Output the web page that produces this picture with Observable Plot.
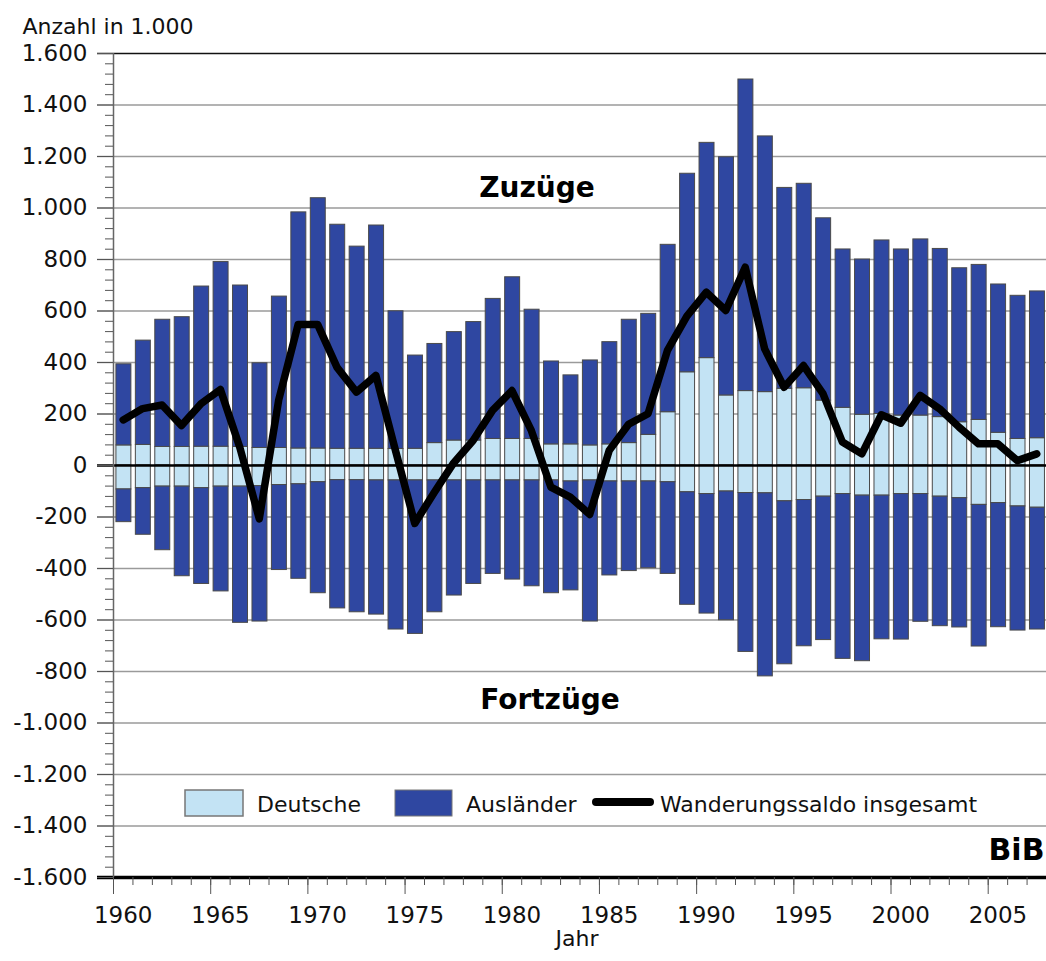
<!DOCTYPE html>
<html><head><meta charset="utf-8">
<script src="https://cdn.jsdelivr.net/npm/d3@7"></script>
<script src="https://cdn.jsdelivr.net/npm/@observablehq/plot@0.6"></script>
<style>html,body{margin:0;padding:0;background:#fff;}</style>
</head><body><div id="chart"></div>
<script>
// Jahre (Kategorien)
const years = [1960,1961,1962,1963,1964,1965,1966,1967,1968,1969,1970,1971,1972,1973,1974,1975,1976,1977,1978,1979,1980,1981,1982,1983,1984,1985,1986,1987,1988,1989,1990,1991,1992,1993,1994,1995,1996,1997,1998,1999,2000,2001,2002,2003,2004,2005,2006,2007];
// Zuzüge (in 1.000)
const deutscheZuzuege = [78,80,72,72,73,73,72,68,68,66,66,65,65,65,64,65,87,97,97,103,103,103,82,82,78,82,87,119,207,362,417,272,289,285,298,300,252,224,197,200,194,194,188,168,177,127,103,106];
const auslaenderZuzuege = [315,405,494,504,622,717,627,329,588,917,972,870,785,867,535,362,385,421,460,544,628,502,322,268,330,397,479,470,650,771,836,925,1210,993,780,794,708,615,603,674,645,684,653,598,602,576,556,570];
// Fortzüge (in 1.000, negativ)
const deutscheFortzuege = [-93,-88,-82,-82,-88,-82,-82,-80,-76,-73,-65,-57,-57,-58,-58,-58,-58,-58,-58,-58,-58,-58,-58,-62,-58,-62,-62,-62,-65,-104,-111,-101,-107,-108,-139,-134,-121,-111,-117,-117,-111,-111,-121,-127,-153,-146,-159,-164];
const auslaenderFortzuege = [-127,-181,-247,-348,-372,-407,-529,-526,-330,-367,-431,-498,-513,-521,-579,-596,-512,-447,-402,-363,-385,-411,-438,-423,-548,-365,-348,-337,-356,-437,-464,-500,-617,-711,-633,-568,-557,-640,-643,-558,-565,-496,-503,-502,-550,-482,-482,-473];
// Wanderungssaldo insgesamt
const saldo = [177,221,235,155,240,295,70,-207,255,548,548,381,285,350,60,-225,-105,10,97,214,291,135,-84,-123,-190,58,160,201,447,580,673,602,770,453,304,388,279,91,45,197,164,272,220,149,84,84,19,45];

// Achsen
const yMajorTicks = [-1600,-1400,-1200,-1000,-800,-600,-400,-200,0,200,400,600,800,1000,1200,1400,1600];
const yGridTicks = [-1400,-1200,-1000,-800,-600,-400,-200,200,400,600,800,1000,1200,1400];
const yMinorTicks = [-1560,-1520,-1480,-1440,-1360,-1320,-1280,-1240,-1160,-1120,-1080,-1040,-960,-920,-880,-840,-760,-720,-680,-640,-560,-520,-480,-440,-360,-320,-280,-240,-160,-120,-80,-40,40,80,120,160,240,280,320,360,440,480,520,560,640,680,720,760,840,880,920,960,1040,1080,1120,1160,1240,1280,1320,1360,1440,1480,1520,1560];
const xYearTicks = [1960,1961,1962,1963,1964,1965,1966,1967,1968,1969,1970,1971,1972,1973,1974,1975,1976,1977,1978,1979,1980,1981,1982,1983,1984,1985,1986,1987,1988,1989,1990,1991,1992,1993,1994,1995,1996,1997,1998,1999,2000,2001,2002,2003,2004,2005,2006,2007,2008];
const xLabelYears = [1960,1965,1970,1975,1980,1985,1990,1995,2000,2005];

const groups = ["Deutsche","Ausländer"];
const colors = ["#c3e3f4","#2f47a1"];
const legendLine = "Wanderungssaldo insgesamt";

// gestapelte Tabelle
const rows = [];
years.forEach((year,i)=>{
  rows.push({year, group:"Deutsche", y1:0, y2:deutscheZuzuege[i]});
  rows.push({year, group:"Ausländer", y1:deutscheZuzuege[i], y2:deutscheZuzuege[i]+auslaenderZuzuege[i]});
  rows.push({year, group:"Deutsche", y1:0, y2:deutscheFortzuege[i]});
  rows.push({year, group:"Ausländer", y1:deutscheFortzuege[i], y2:deutscheFortzuege[i]+auslaenderFortzuege[i]});
});
const saldoRows = years.map((year,i)=>({year, value:saldo[i]}));

const de = d3.formatLocale({decimal:",", thousands:".", grouping:[3], currency:["","€"], minus:"-"});
const fmt = de.format(",d");
const FONT = "'DejaVu Sans', Verdana, sans-serif";

const chart = Plot.plot({
  width:1046, height:961,
  marginTop:53, marginBottom:84, marginLeft:113, marginRight:0,
  style:{fontFamily:FONT, fontSize:"23px", color:"#111", background:"#fff"},
  x:{domain:[1960,2008]},
  y:{domain:[-1600,1600]},
  color:{domain:groups, range:colors},
  marks:[
    Plot.ruleY(yGridTicks, {stroke:"#9a9a9a", strokeWidth:1.5, insetLeft:-16}),
    Plot.rect(rows, {x1:d=>d.year+0.15, x2:d=>d.year+0.92, y1:"y1", y2:"y2", fill:"group", stroke:"#4a4a4a", strokeWidth:1}),
    Plot.ruleY([0], {stroke:"#000", strokeWidth:2.5, insetLeft:-16}),
    Plot.ruleY([1600], {stroke:"#111", strokeWidth:1.5, insetLeft:-16}),
    Plot.ruleY([-1600], {stroke:"#000", strokeWidth:3.5, insetLeft:-16}),
    Plot.ruleX([1960], {stroke:"#666", strokeWidth:1.5}),
    Plot.axisY({ticks:yMinorTicks, tickSize:8, tickFormat:()=>"", label:null, stroke:"#555"}),
    Plot.axisY({ticks:yMajorTicks, tickSize:16, tickPadding:10, tickFormat:fmt, label:null, stroke:"#555", fontSize:23}),
    Plot.axisX({ticks:xYearTicks, tickSize:8, tickFormat:()=>"", label:null, stroke:"#555"}),
    Plot.axisX({ticks:xLabelYears, tickSize:17, tickFormat:()=>"", label:null, stroke:"#555"}),
    Plot.text(xLabelYears, {x:d=>d+0.5, frameAnchor:"bottom", dy:45, text:d=>String(d), fontSize:23, fill:"#111"}),
    Plot.line(saldoRows, {x:d=>d.year+0.5, y:"value", stroke:"#000", strokeWidth:7.5, strokeLinejoin:"round", strokeLinecap:"round"}),
    Plot.text(["Anzahl in 1.000"], {frameAnchor:"top-left", dx:-91, dy:-35, textAnchor:"start", fontSize:22, fill:"#111"}),
    Plot.text(["Zuzüge"], {frameAnchor:"top", dx:-43, dy:124, fontSize:28, fontWeight:"bold", fill:"#000"}),
    Plot.text(["Fortzüge"], {frameAnchor:"top", dx:-30, dy:636, fontSize:28, fontWeight:"bold", fill:"#000"}),
    Plot.text(["Jahr"], {frameAnchor:"bottom", dx:-3, dy:68, fontSize:22, fill:"#111"}),
    Plot.text(["BiB"], {frameAnchor:"bottom-right", dx:-2, dy:-18, textAnchor:"end", fontSize:30, fontWeight:"bold", fill:"#000"})
  ]
});
document.getElementById("chart").appendChild(chart);

// Legende
const svg = d3.select(chart);
const lg = svg.append("g").attr("font-family",FONT).attr("font-size",22).attr("fill","#111").attr("text-anchor","start");
lg.append("rect").attr("x",185).attr("y",790).attr("width",58).attr("height",26).attr("fill",colors[0]).attr("stroke","#777").attr("stroke-width",1.5);
lg.append("text").attr("x",257).attr("y",812).attr("text-anchor","start").text(groups[0]);
lg.append("rect").attr("x",395).attr("y",790).attr("width",57).attr("height",26).attr("fill",colors[1]).attr("stroke","#777").attr("stroke-width",1);
lg.append("text").attr("x",466).attr("y",812).attr("text-anchor","start").text(groups[1]);
lg.append("line").attr("x1",596).attr("x2",650).attr("y1",802).attr("y2",802).attr("stroke","#000").attr("stroke-width",8).attr("stroke-linecap","round");
lg.append("text").attr("x",660).attr("y",812).attr("text-anchor","start").text(legendLine);
</script>
</body></html>
